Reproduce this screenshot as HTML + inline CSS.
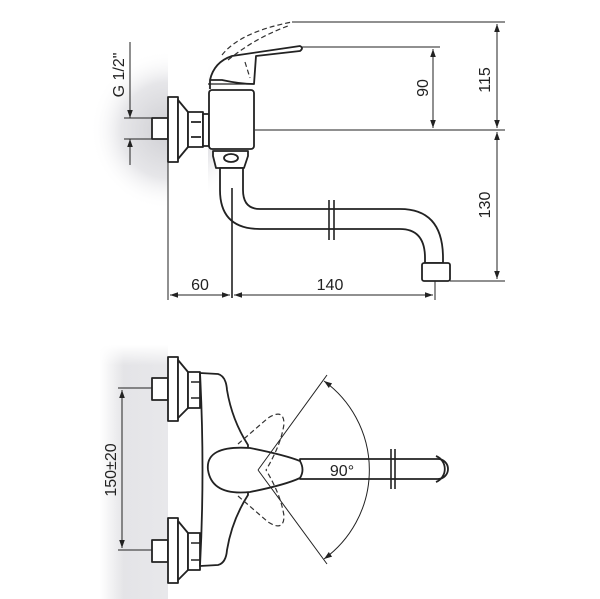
<!DOCTYPE html>
<html><head><style>
html,body{margin:0;padding:0;background:#fff;width:600px;height:599px;overflow:hidden}
text{font-family:"Liberation Sans",sans-serif;font-size:16px;fill:#222}
</style></head><body>
<svg width="600" height="599" viewBox="0 0 600 599" xmlns="http://www.w3.org/2000/svg">
<defs>
<radialGradient id="w1" cx="0.5" cy="0.5" r="0.5">
<stop offset="0" stop-color="#cfcfd3"/><stop offset="0.6" stop-color="#e6e6e9"/><stop offset="1" stop-color="#fff" stop-opacity="0"/></radialGradient>
<linearGradient id="w2" x1="0" x2="1" y1="0" y2="0">
<stop offset="0" stop-color="#fff"/><stop offset="0.35" stop-color="#e4e4e7"/><stop offset="1" stop-color="#e8e8eb"/></linearGradient>
<linearGradient id="w3" x1="0" x2="0" y1="0" y2="1">
<stop offset="0" stop-color="#fff" stop-opacity="1"/><stop offset="0.08" stop-color="#fff" stop-opacity="0"/></linearGradient>
<marker id="a" viewBox="0 0 10 10" refX="10" refY="5" markerWidth="8" markerHeight="8" orient="auto-start-reverse"><path d="M0,1.5L10,5L0,8.5z" fill="#222"/></marker>
</defs>
<ellipse cx="168" cy="130" rx="78" ry="80" fill="url(#w1)"/>
<rect x="168" y="40" width="40" height="180" fill="#fff"/>
<rect x="100" y="345" width="68" height="254" fill="url(#w2)"/>
<rect x="100" y="345" width="68" height="254" fill="url(#w3)"/>
<g fill="#fff" stroke="#222" stroke-width="1.8" stroke-linejoin="round">
<rect x="152" y="118" width="16" height="21"/>
<rect x="168" y="97" width="10" height="65"/>
<path d="M178,100 L188,112 L188,147 L178,159z"/>
<rect x="188" y="112" width="15" height="35"/>
<path d="M191,122h10M191,137h10" />
<rect x="203" y="114" width="6" height="32"/>
<path d="M213,151h35v5l-4,12h-28l-3,-12z"/>
<ellipse cx="231" cy="158" rx="7" ry="4"/>
<path d="M220,168 V190 Q220,229 260,229 H400 Q425,229 425,258 V263 H443 V258 Q443,209 400,209 H260 Q243,209 243,190 V168z"/>
<rect x="422" y="263" width="28" height="18" rx="2"/>
<rect x="209" y="90" width="45" height="59" rx="3"/>
<path d="M210,89 L210,80 Q214,62 232,56 L300,46 Q304,48 300,51 L256,56 L254,84 Q240,84 222,80 Q214,80 210,80"/>
<path d="M208,84h46" stroke-width="1.2"/>
<rect x="152" y="378" width="16" height="22"/>
<rect x="168" y="357" width="10" height="64"/>
<path d="M178,360 L188,372 L188,408 L178,418z"/>
<rect x="188" y="372" width="12" height="36"/>
<rect x="152" y="540" width="16" height="22"/>
<rect x="168" y="518" width="10" height="65"/>
<path d="M178,521 L188,533 L188,570 L178,580z"/>
<rect x="188" y="533" width="12" height="37"/>
<path d="M200,373 L218,374 Q226,376 227,390 Q232,420 248,445 L248,495 Q232,520 227,550 Q226,563 218,565 L200,566 Q205,470 200,373z"/>
<path d="M300,459 H438 A10,10 0 0 1 438,479 H300z"/>
<path d="M436,456 A14,14 0 0 1 436,482" fill="none"/>
</g>
<g fill="none" stroke="#222" stroke-width="1.6">
<path d="M191,382h9M191,398h9M191,543h9M191,560h9"/>
<path d="M329,200v40M334,200v40M391,449v40M395,449v40"/>
<path d="M232,188v110"/>
</g>
<path d="M250,448 Q205,445 208,470 Q212,496 250,492 Q285,485 300,478 Q305,470 300,461 Q285,455 250,448z" fill="#fff" stroke="#222" stroke-width="1.8"/>
<g fill="none" stroke="#333" stroke-width="1.2" stroke-dasharray="5,3">
<path d="M222,55 Q240,32 292,22"/><path d="M228,60 Q255,38 288,26"/>
<path d="M245,62 L250,78"/>
<path d="M238,444 L268,418 Q284,408 284,424 Q281,445 266,470"/>
<path d="M238,496 L268,522 Q284,532 284,516 Q281,495 266,470"/>
</g>
<g fill="none" stroke="#222" stroke-width="1">
<path d="M292,22H505M302,47H440M255,130H505M450,281H505"/>
<path d="M433,49V128" marker-start="url(#a)" marker-end="url(#a)"/>
<path d="M497,24V128" marker-start="url(#a)" marker-end="url(#a)"/>
<path d="M497,132V279" marker-start="url(#a)" marker-end="url(#a)"/>
<path d="M168,162V300M435,281V300"/>
<path d="M170,295H230" marker-start="url(#a)" marker-end="url(#a)"/>
<path d="M234,295H433" marker-start="url(#a)" marker-end="url(#a)"/>
<path d="M130,42V112M130,145V165M124,118h28M124,139h28"/>
<path d="M130,108V118" marker-end="url(#a)"/><path d="M130,149V139" marker-end="url(#a)"/>
<path d="M118,388h34M118,550h34"/>
<path d="M122,390V548" marker-start="url(#a)" marker-end="url(#a)"/>
<path d="M258,470L327,375M258,470L327,564"/>
<path d="M324,381 A110,110 0 0 1 324,559" marker-start="url(#a)" marker-end="url(#a)"/>
</g>
<text x="200" y="290" text-anchor="middle">60</text>
<text x="330" y="290" text-anchor="middle">140</text>
<text x="342" y="476" text-anchor="middle">90°</text>
<text transform="translate(428,88) rotate(-90)" text-anchor="middle">90</text>
<text transform="translate(490,80) rotate(-90)" text-anchor="middle">115</text>
<text transform="translate(490,205) rotate(-90)" text-anchor="middle">130</text>
<text transform="translate(124,75) rotate(-90)" text-anchor="middle" font-size="15">G 1/2"</text>
<text transform="translate(116,470) rotate(-90)" text-anchor="middle">150±20</text>
</svg>
</body></html>
